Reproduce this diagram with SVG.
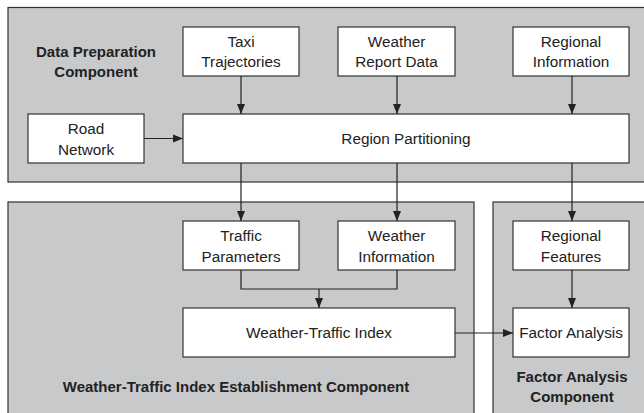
<svg xmlns="http://www.w3.org/2000/svg" width="644" height="413" viewBox="0 0 644 413">
<defs>
<marker id="ah" viewBox="0 0 10 10" refX="10" refY="5" markerWidth="10" markerHeight="10" markerUnits="userSpaceOnUse" orient="auto">
<path d="M0,1 L10,5 L0,9 z" fill="#222"/>
</marker>
<style>
.panel{fill:#c8c9cb;stroke:#333;stroke-width:1.2}
.box{fill:#fff;stroke:#333;stroke-width:1.2}
.t{font-family:"Liberation Sans",Arial,sans-serif;font-size:15.3px;fill:#222;text-anchor:middle}
.b{font-family:"Liberation Sans",Arial,sans-serif;font-size:15px;font-weight:bold;fill:#222;text-anchor:middle}
.c{fill:none;stroke:#222;stroke-width:1.2}
</style>
</defs>
<rect width="644" height="413" fill="#fff"/>
<g id="panels">
<rect class="panel" x="8" y="7.5" width="640" height="174.5"/>
<rect class="panel" x="8" y="202" width="466" height="215"/>
<rect class="panel" x="493" y="202" width="155" height="215"/>
<text class="b" x="96" y="57">Data Preparation</text>
<text class="b" x="96" y="77">Component</text>
<text class="b" x="236" y="392">Weather-Traffic Index Establishment Component</text>
<text class="b" x="572" y="382">Factor Analysis</text>
<text class="b" x="572" y="402">Component</text>
</g>
<g id="taxi"><rect class="box" x="183" y="27" width="116" height="49"/><text class="t" x="241" y="47">Taxi</text><text class="t" x="241" y="67">Trajectories</text></g>
<g id="weather-report"><rect class="box" x="338" y="27" width="117" height="49"/><text class="t" x="396.5" y="47">Weather</text><text class="t" x="396.5" y="67">Report Data</text></g>
<g id="regional-info"><rect class="box" x="513" y="27" width="116" height="49"/><text class="t" x="571" y="47">Regional</text><text class="t" x="571" y="67">Information</text></g>
<g id="road"><rect class="box" x="28" y="114" width="116" height="49"/><text class="t" x="86" y="134">Road</text><text class="t" x="86" y="155">Network</text></g>
<g id="region-part"><rect class="box" x="183" y="114" width="446" height="49"/><text class="t" x="406" y="144">Region Partitioning</text></g>
<g id="traffic-params"><rect class="box" x="183" y="221" width="116" height="49"/><text class="t" x="241" y="241">Traffic</text><text class="t" x="241" y="262">Parameters</text></g>
<g id="weather-info"><rect class="box" x="338" y="221" width="117" height="49"/><text class="t" x="396.5" y="241">Weather</text><text class="t" x="396.5" y="262">Information</text></g>
<g id="regional-feat"><rect class="box" x="513" y="221" width="116" height="49"/><text class="t" x="571" y="241">Regional</text><text class="t" x="571" y="262">Features</text></g>
<g id="wti"><rect class="box" x="183" y="308" width="272" height="49"/><text class="t" x="319" y="338">Weather-Traffic Index</text></g>
<g id="factor"><rect class="box" x="513" y="308" width="116" height="49"/><text class="t" x="571" y="338">Factor Analysis</text></g>
<g id="connectors">
<line class="c" x1="241" y1="76" x2="241" y2="114" marker-end="url(#ah)"/>
<line class="c" x1="397" y1="76" x2="397" y2="114" marker-end="url(#ah)"/>
<line class="c" x1="572" y1="76" x2="572" y2="114" marker-end="url(#ah)"/>
<line class="c" x1="144" y1="138.5" x2="183" y2="138.5" marker-end="url(#ah)"/>
<line class="c" x1="241" y1="163" x2="241" y2="221" marker-end="url(#ah)"/>
<line class="c" x1="397" y1="163" x2="397" y2="221" marker-end="url(#ah)"/>
<line class="c" x1="572" y1="163" x2="572" y2="221" marker-end="url(#ah)"/>
<polyline class="c" points="241,270 241,289 397,289 397,270"/>
<line class="c" x1="319" y1="289" x2="319" y2="308" marker-end="url(#ah)"/>
<line class="c" x1="572" y1="270" x2="572" y2="308" marker-end="url(#ah)"/>
<line class="c" x1="455" y1="333" x2="513" y2="333" marker-end="url(#ah)"/>
</g>
</svg>
